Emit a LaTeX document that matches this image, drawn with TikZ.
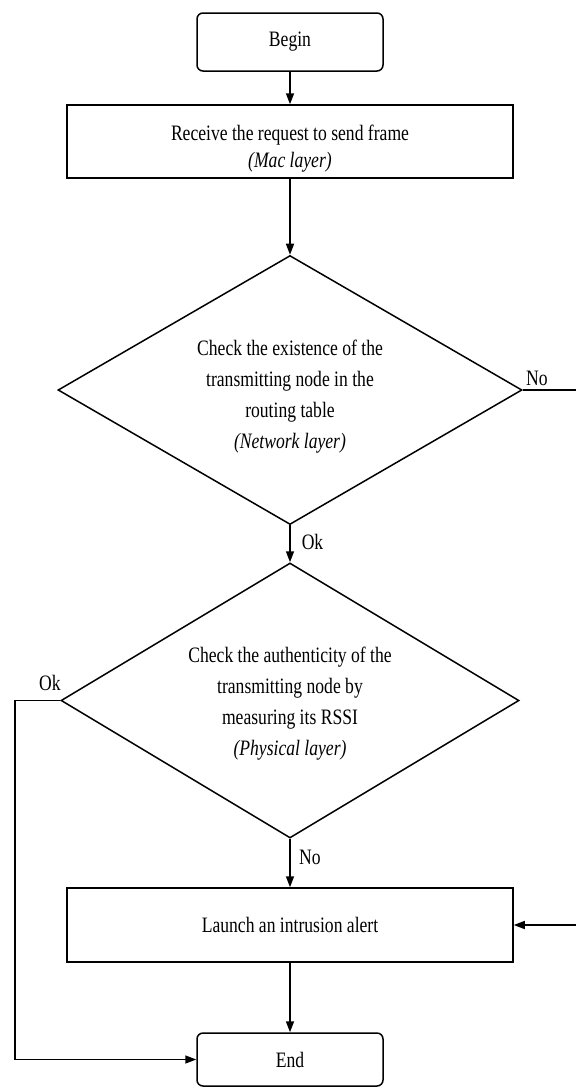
\documentclass[tikz,border=0pt]{standalone}
\usepackage{fontspec}
\setmainfont{Liberation Serif}[FakeStretch=0.8]
\usetikzlibrary{shapes.geometric,arrows.meta}
\begin{document}
\begin{tikzpicture}[x=1pt,y=-1pt,line width=1.5pt,
  txt/.style={font=\fontsize{22}{27}\selectfont,align=center,inner sep=0pt},
  dtxt/.style={font=\fontsize{22}{31}\selectfont,align=center,inner sep=0pt},
  term/.style={draw,rounded corners=6pt,minimum width=186pt,inner sep=0pt,txt},
  proc/.style={draw,minimum width=446pt,inner sep=0pt,align=center,txt},
  dec/.style={draw,diamond,aspect=1.72,inner sep=0pt},
  arr/.style={-{Triangle[length=11pt,width=8pt]},line width=1.5pt},
  lbl/.style={font=\fontsize{22}{24}\selectfont,inner sep=0pt}]
\useasboundingbox (0,0) rectangle (576,1088);
\node[term,minimum height=58pt] (begin) at (290,42) {Begin};
\node[proc,minimum height=73pt] (recv) at (290,141.5) {};
\node[txt] (recvt) at (290,148.5) {Receive the request to send frame\\\textit{(Mac layer)}};
\node[dec,minimum width=464pt,minimum height=269pt] (d1) at (290,390) {};
\node[dtxt] (d1t) at (290,397) {Check the existence of the\\transmitting node in the\\routing table\\\textit{(Network layer)}};
\node[dec,minimum width=458pt,minimum height=275pt] (d2) at (290,700.5) {};
\node[dtxt] (d2t) at (290,704) {Check the authenticity of the\\transmitting node by\\measuring its RSSI\\\textit{(Physical layer)}};
\node[proc,minimum height=74pt] (alert) at (290,925) {Launch an intrusion alert};
\node[term,minimum height=53pt] (end) at (290,1059.5) {End};
\node[lbl,anchor=west] (ok1) at (301,542) {Ok};
\node[lbl] (no2) at (310,857) {No};
\node[lbl] (ok2) at (50,683) {Ok};
\node[lbl] (no1) at (537,378) {No};
\draw[arr] (begin) -- (recv);
\draw[arr] (recv) -- (d1);
\draw[arr] (d1) -- (d2);
\draw[arr] (d2) -- (alert);
\draw[arr] (alert) -- (end);
\coordinate (lc) at (15,0);
\draw[arr] (d2.west) -- (d2.west -| lc) |- (end.west);
\coordinate (rout) at (577,390);
\draw (d1.east) -- (rout);
\coordinate (rin) at (577,925);
\draw[arr] (rin) -- (alert.east);
\end{tikzpicture}
\end{document}
